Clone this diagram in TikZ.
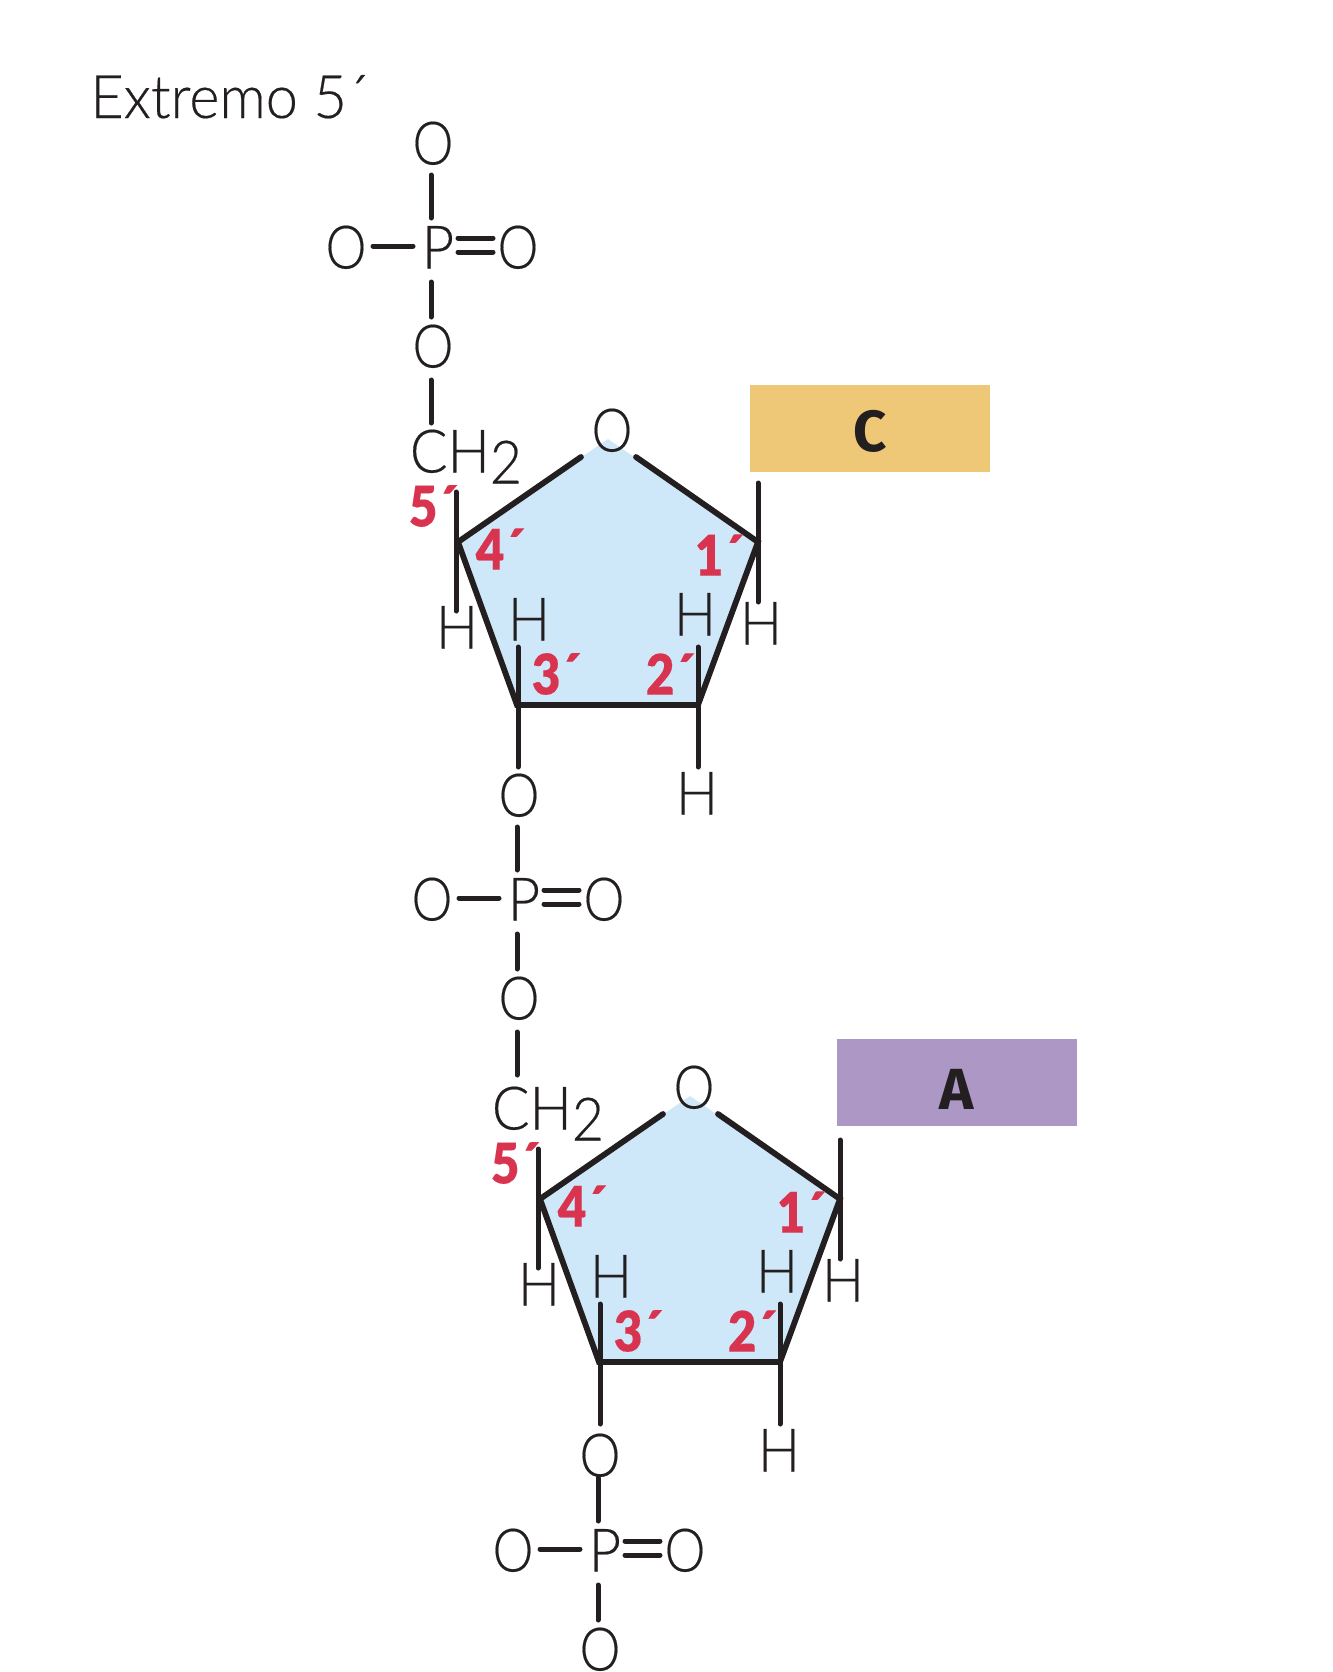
\documentclass[tikz,border=0pt]{standalone}
\usepackage{fontspec}
\setmainfont{Liberation Sans}
\newfontfamily\lightf[FakeStretch=0.93,FakeBold=0.3]{Lato Light}
\newfontfamily\lightO[FakeStretch=0.86,FakeBold=0.3]{Lato Light}
\newfontfamily\titlef[FakeStretch=0.96,FakeBold=0.3]{Lato Light}
\newfontfamily\redf[FakeStretch=0.88,FakeBold=0.2]{Lato Black}
\newfontfamily\basef{Fira Sans Bold}
\definecolor{ink}{HTML}{231F20}
\definecolor{redlab}{HTML}{D8334F}
\definecolor{ringblue}{HTML}{CEE7F9}
\definecolor{boxC}{HTML}{EEC777}
\definecolor{boxA}{HTML}{AD97C5}
\tikzset{
 atom/.style={inner sep=0pt,outer sep=4pt,text=ink,text height=21.5pt,text depth=0pt,font=\lightf\fontsize{30}{30}\selectfont},
 oxygen/.style={atom,font=\lightO\fontsize{30}{30}\selectfont},
 titletext/.style={inner sep=0pt,text=ink,font=\titlef\fontsize{30}{30}\selectfont},
 bond/.style={draw=ink,line width=2.5pt,line cap=round},
 ringbond/.style={draw=ink,line width=2.9pt,line cap=round,line join=miter},
 redlabel/.style={inner sep=0pt,text=redlab,font=\redf\fontsize{28}{28}\selectfont},
 basebox/.style={inner sep=0pt,minimum width=120pt,minimum height=43.5pt,text height=20pt,text depth=0pt,text=ink,font=\basef\fontsize{29}{29}\selectfont}
}
\newcommand{\phosphate}[4]{%
\begin{scope}[shift={(#2,#3)},name prefix=#1-]
 \node[oxygen] (ot) at (433,143+#4) {O};
 \node[atom] (p) at (438,247) {P};
 \node[oxygen] (ow) at (346,247) {O};
 \node[oxygen] (oe) at (518,247) {O};
 \node[oxygen] (ob) at (433,346) {O};
 \coordinate (a1) at (431,175); \coordinate (a2) at (431,218);
 \coordinate (b1) at (431,282); \coordinate (b2) at (431,317);
 \coordinate (c1) at (373,246); \coordinate (c2) at (413,246);
 \coordinate (d1) at (458,238); \coordinate (d2) at (493,238);
 \coordinate (e1) at (458,252); \coordinate (e2) at (493,252);
 \draw[bond] (a1)--(a2) (b1)--(b2) (c1)--(c2) (d1)--(d2) (e1)--(e2);
\end{scope}}
\newcommand{\sugar}[3]{%
\begin{scope}[shift={(#2,#3)},name prefix=#1-]
 \coordinate (apex) at (608,439); \coordinate (v4) at (458,542);
 \coordinate (v1) at (758,542); \coordinate (v3) at (517,705); \coordinate (v2) at (698,705);
 \fill[ringblue] (apex)--(v1)--(v2)--(v3)--(v4)--cycle;
 \coordinate (r1) at (581,457); \coordinate (r2) at (636,457);
 \coordinate (u4) at (456,492); \coordinate (d4) at (456,611);
 \coordinate (u1) at (758,483); \coordinate (d1) at (758,602);
 \coordinate (u3) at (518,647); \coordinate (d3) at (518,767);
 \coordinate (u2) at (698,647); \coordinate (d2) at (698,767);
 \draw[ringbond] (r1)--(v4)--(v3)--(v2)--(v1)--(r2);
 \draw[bond] (u4)--(d4) (u1)--(d1) (u3)--(d3) (u2)--(d2);
 \node[oxygen] (oring) at (612,430) {O};
 \node[atom] (ch) at (466,451) {CH\smash{\raisebox{-5.5pt}{2}}};
 \node[atom] (h4) at (457,627) {H};
 \node[atom] (h3) at (529,619) {H};
 \node[atom] (h2) at (695,614) {H};
 \node[atom] (h1) at (761,623) {H};
 \node[atom] (hb) at (697,793) {H};
 \node[redlabel] (l5) at (433,506) {5´};
 \node[redlabel] (l4) at (500,549) {4´};
 \node[redlabel] (l1) at (719,555) {1´};
 \node[redlabel] (l3) at (556,674) {3´};
 \node[redlabel] (l2) at (670,674) {2´};
\end{scope}}
\begin{document}
\begin{tikzpicture}[x=0.5pt,y=-0.5pt]
\useasboundingbox (0,0) rectangle (1333,1672);
\node[titletext,anchor=base west] (title) at (90,118) {Extremo 5´};
\sugar{s1}{0}{0}
\sugar{s2}{82}{657}
\phosphate{p1}{0}{0}{0}
\phosphate{p2}{86}{652}{0}
\phosphate{p3}{167}{1303}{9}
\node[basebox,fill=boxC] (baseC) at (870,428) {\smash{\raisebox{-1.9pt}{C}}};
\node[basebox,fill=boxA] (baseA) at (957,1082) {\smash{\raisebox{-3.5pt}{A}}};
\coordinate (j1a) at (431,380); \coordinate (j1b) at (431,423);
\coordinate (j2a) at (517,1032); \coordinate (j2b) at (517,1075);
\draw[bond] (j1a)--(j1b) (j2a)--(j2b);
\end{tikzpicture}
\end{document}
